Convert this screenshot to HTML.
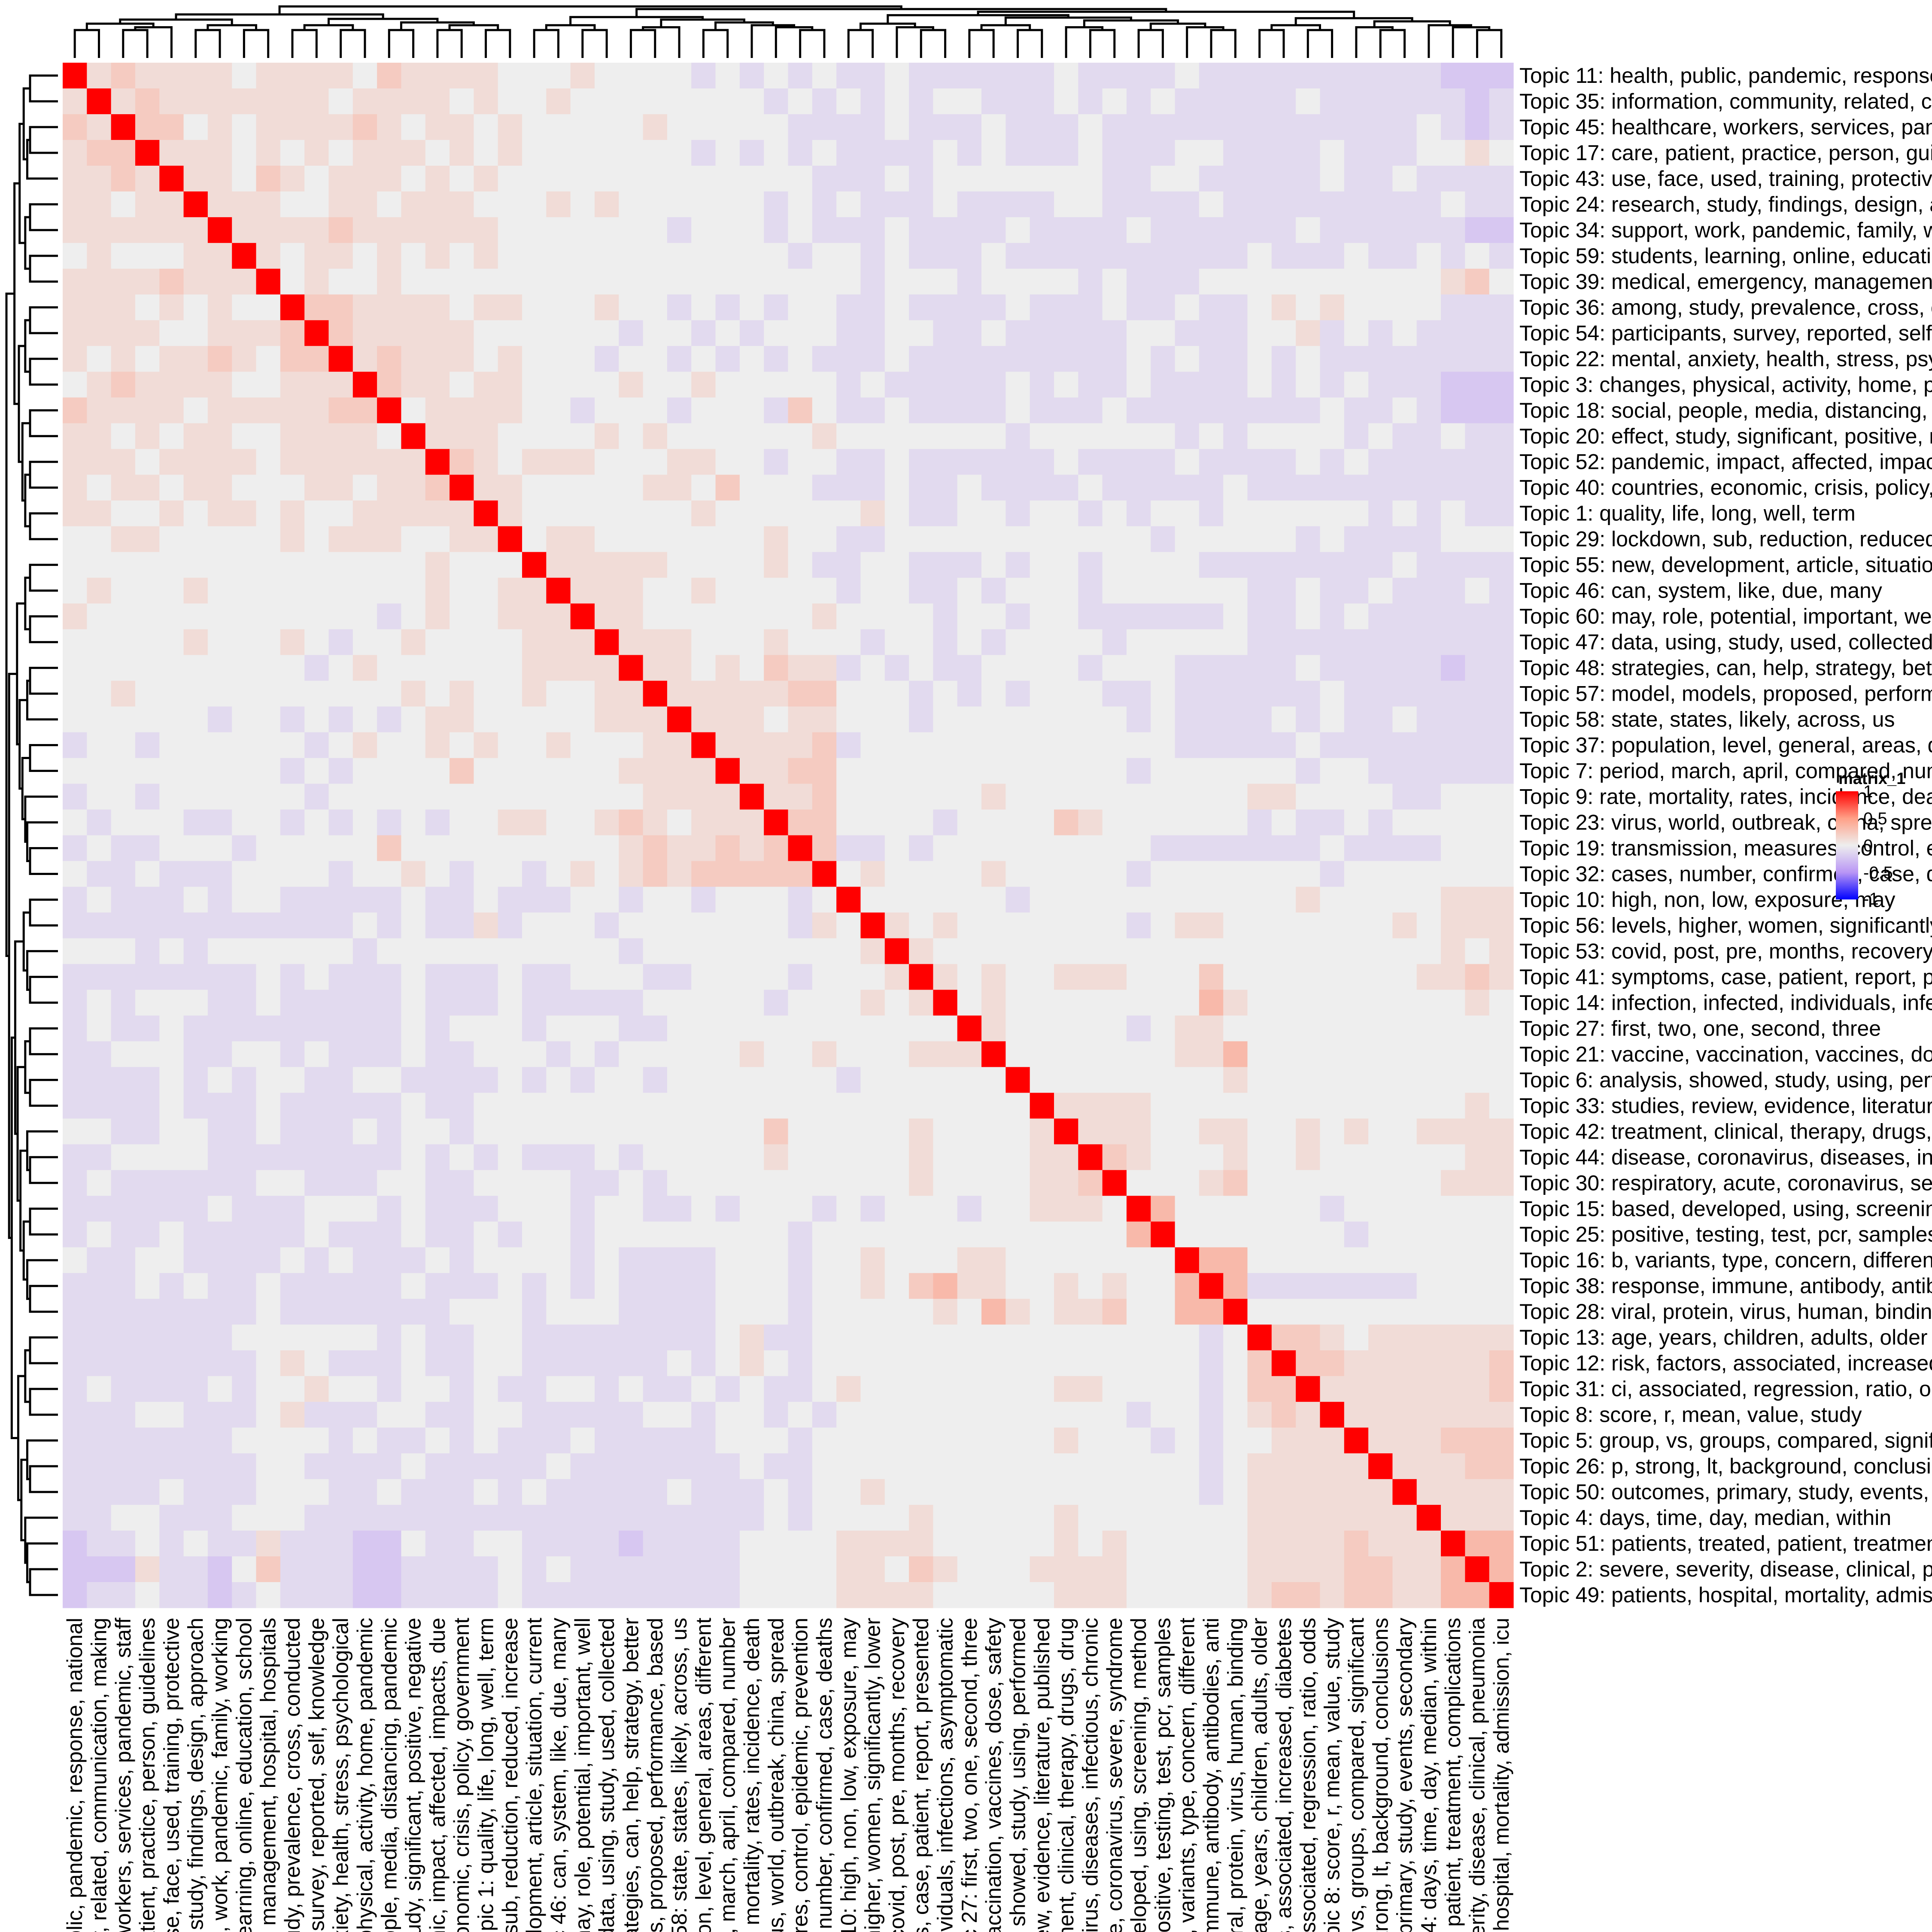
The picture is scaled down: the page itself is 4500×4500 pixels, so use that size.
<!DOCTYPE html>
<html><head><meta charset="utf-8"><style>
html,body{margin:0;padding:0;background:#fff;width:4500px;height:4500px;overflow:hidden;}
svg{display:block;font-family:"Liberation Sans",Arial,sans-serif;}
</style></head><body>
<svg id="chart" width="4500" height="4500" viewBox="0 0 4500 4500" xmlns="http://www.w3.org/2000/svg" overflow="hidden">
<g id="cells"></g>
<g id="rowlabels"></g>
<g id="collabels"></g>
<g id="dendro" stroke="#000" stroke-width="5" fill="none"></g>
<g id="legend">
<defs><linearGradient id="lg" x1="0" y1="0" x2="0" y2="1">
<stop offset="0" stop-color="#ff0000"/><stop offset="0.25" stop-color="#ffa087"/><stop offset="0.5" stop-color="#eeeeee"/><stop offset="0.75" stop-color="#b996f5"/><stop offset="1" stop-color="#0000ff"/></linearGradient></defs>
<text x="4282" y="1826" font-size="38" font-weight="bold">matrix_1</text>
<rect x="4276" y="1843" width="52" height="252" fill="url(#lg)"/>
<text x="4340" y="1857" font-size="40">1</text>
<text x="4340" y="1920" font-size="40">0.5</text>
<text x="4340" y="1983" font-size="40">0</text>
<text x="4340" y="2046" font-size="40">-0.5</text>
<text x="4340" y="2107" font-size="40">-1</text>
</g>
</svg>
<script>
const topics = ["Topic 11: health, public, pandemic, response, national","Topic 35: information, community, related, communication, making","Topic 45: healthcare, workers, services, pandemic, staff","Topic 17: care, patient, practice, person, guidelines","Topic 43: use, face, used, training, protective","Topic 24: research, study, findings, design, approach","Topic 34: support, work, pandemic, family, working","Topic 59: students, learning, online, education, school","Topic 39: medical, emergency, management, hospital, hospitals","Topic 36: among, study, prevalence, cross, conducted","Topic 54: participants, survey, reported, self, knowledge","Topic 22: mental, anxiety, health, stress, psychological","Topic 3: changes, physical, activity, home, pandemic","Topic 18: social, people, media, distancing, pandemic","Topic 20: effect, study, significant, positive, negative","Topic 52: pandemic, impact, affected, impacts, due","Topic 40: countries, economic, crisis, policy, government","Topic 1: quality, life, long, well, term","Topic 29: lockdown, sub, reduction, reduced, increase","Topic 55: new, development, article, situation, current","Topic 46: can, system, like, due, many","Topic 60: may, role, potential, important, well","Topic 47: data, using, study, used, collected","Topic 48: strategies, can, help, strategy, better","Topic 57: model, models, proposed, performance, based","Topic 58: state, states, likely, across, us","Topic 37: population, level, general, areas, different","Topic 7: period, march, april, compared, number","Topic 9: rate, mortality, rates, incidence, death","Topic 23: virus, world, outbreak, china, spread","Topic 19: transmission, measures, control, epidemic, prevention","Topic 32: cases, number, confirmed, case, deaths","Topic 10: high, non, low, exposure, may","Topic 56: levels, higher, women, significantly, lower","Topic 53: covid, post, pre, months, recovery","Topic 41: symptoms, case, patient, report, presented","Topic 14: infection, infected, individuals, infections, asymptomatic","Topic 27: first, two, one, second, three","Topic 21: vaccine, vaccination, vaccines, dose, safety","Topic 6: analysis, showed, study, using, performed","Topic 33: studies, review, evidence, literature, published","Topic 42: treatment, clinical, therapy, drugs, drug","Topic 44: disease, coronavirus, diseases, infectious, chronic","Topic 30: respiratory, acute, coronavirus, severe, syndrome","Topic 15: based, developed, using, screening, method","Topic 25: positive, testing, test, pcr, samples","Topic 16: b, variants, type, concern, different","Topic 38: response, immune, antibody, antibodies, anti","Topic 28: viral, protein, virus, human, binding","Topic 13: age, years, children, adults, older","Topic 12: risk, factors, associated, increased, diabetes","Topic 31: ci, associated, regression, ratio, odds","Topic 8: score, r, mean, value, study","Topic 5: group, vs, groups, compared, significant","Topic 26: p, strong, lt, background, conclusions","Topic 50: outcomes, primary, study, events, secondary","Topic 4: days, time, day, median, within","Topic 51: patients, treated, patient, treatment, complications","Topic 2: severe, severity, disease, clinical, pneumonia","Topic 49: patients, hospital, mortality, admission, icu"];
// upper-triangle correlation codes (row i, columns j>i); code -> value
const codeValues = {"1":-0.2,"2":-0.1,"3":0,"4":0.1,"5":0.2,"6":0.3,"7":0.4};
const upper = [
"45444434"+"4443544443"+"3343333232323"+"22322222232222322"+"22222222111",
"4544444"+"4434444343"+"3433333333232"+"32323322232323222"+"22322222212",
"553434"+"4445434434"+"3333343333322"+"22322232223222222"+"22222223212",
"44434"+"3434443434"+"3333333232323"+"22223232223222332"+"22232223343",
"4435"+"4344434343"+"3333333333332"+"22323333333223322"+"22232232222",
"444"+"3344344433"+"3434333333232"+"32223222233222232"+"22222222322",
"44"+"4454444443"+"3333332333232"+"22322223222232222"+"22322222211",
"4"+"3443434343"+"3333333333323"+"32322232222222222"+"32223223232",
"3433433333"+"3333333333333"+"32333233332322233"+"33333333453",
"554444344"+"3334332323233"+"22322223222322322"+"34343333222",
"54444433"+"3333233232333"+"22332232222233222"+"33423232222",
"4544434"+"3332332323232"+"22322222222232322"+"32322222222",
"544344"+"3333433433333"+"23222223232232222"+"32323222111",
"34444"+"3323332333253"+"22322223222322222"+"22232232111",
"4443"+"3334343333334"+"33333332333333232"+"33332322322",
"543"+"4443334433233"+"22322222232222322"+"22323222222",
"44"+"3333344353332"+"22322322223222223"+"22222222222",
"4"+"3333333433333"+"34322332332323323"+"33333232322",
"3443333333433"+"22333333333332333"+"33232222333",
"444443333432"+"23322232332333322"+"22222232222",
"44433433333"+"23322323332333333"+"22322322232",
"4433333334"+"33332332332222223"+"22323222222",
"444333433"+"32332323333233333"+"22222222222",
"44343544"+"23232233332333222"+"22322222122",
"4444455"+"33323232333223222"+"22232222222",
"444344"+"33323333333323222"+"23232232222",
"44445"+"23333333333333222"+"22322222222",
"4455"+"33333333333323333"+"33233222222",
"445"+"33333343333333333"+"44333322333",
"55"+"33332333354333333"+"23223233333",
"5"+"22323333333332222"+"22232222333",
"34333343333323333"+"33323333333",
"3333332333333333"+"33433333444",
"434333333323443"+"33333343444",
"43333333333333"+"33333333434",
"4343344433353"+"33333334454",
"343333333364"+"33333333343",
"43333323443"+"33333333333",
"3333333446"+"33333333333",
"333333334"+"33333333333",
"44443333"+"33333333343",
"4443344"+"33434334444",
"543334"+"33433333344",
"33345"+"33333333444",
"6333"+"33323333333",
"333"+"33332333333",
"66"+"33333333333",
"6"+"22222223333",
"33333333333",
"5543444444","554444445","44444445","4444444","444555","44455","4444","444","66","6",""];
// dendrogram structure (leaf indices in display order)
const treeA=[[[1,2],[[3,4],5]],[[6,7],[8,9]]];
const treeB=[[[10,11],[12,13]],[[14,15],[[16,17],[18,19]]]];
const treeC=[[[20,21],[22,23]],[[[24,25],26],[[27,28],[29,[30,[31,32]]]]]];
const treeD=[[[33,34],[35,[36,37]]],[[[38,39],[40,41]],[[42,[43,44]],[[45,46],[47,[48,49]]]]]];
const treeE=[[[50,51],[52,53]],[[54,[55,56]],[57,[58,[59,60]]]]];
const tree=[[treeA,treeB],[treeC,[treeD,treeE]]];

const N=topics.length, X0=146, Y0=146, W=3379, H=3599, cw=W/N, ch=H/N;
const NS="http://www.w3.org/2000/svg";
function xPos(j){return X0+j*cw;}
function yPos(i){return Y0+i*ch;}
function lerp(a,b,t){return a+(b-a)*t;}
function color(v){
  const stops=[[-1,[0,0,255]],[-0.5,[180,140,245]],[0,[238,238,238]],[0.5,[255,150,125]],[1,[255,0,0]]];
  v=Math.max(-1,Math.min(1,v));
  for(let k=0;k<stops.length-1;k++){
    const [a,ca]=stops[k],[b,cb]=stops[k+1];
    if(v>=a&&v<=b){const t=(v-a)/(b-a);return `rgb(${Math.round(lerp(ca[0],cb[0],t))},${Math.round(lerp(ca[1],cb[1],t))},${Math.round(lerp(ca[2],cb[2],t))})`;}
  }
  return "#eee";
}
function val(i,j){
  if(i===j) return 1;
  const a=Math.min(i,j), b=Math.max(i,j);
  return codeValues[upper[a][b-a-1]] ?? 0;
}
const cells=document.getElementById('cells');
for(let i=0;i<N;i++)for(let j=0;j<N;j++){
  const r=document.createElementNS(NS,'rect');
  
  
  r.setAttribute('x',xPos(j));r.setAttribute('y',yPos(i));
  r.setAttribute('width',cw+0.6);r.setAttribute('height',ch+0.6);
  r.setAttribute('fill',color(val(i,j)));
  cells.appendChild(r);
}
const rl=document.getElementById('rowlabels'), cl=document.getElementById('collabels');
topics.forEach((t,i)=>{
  const a=document.createElementNS(NS,'text');
  
  
  a.setAttribute('x',3539);a.setAttribute('y',yPos(i)+ch/2+17);
  a.setAttribute('font-size','50');a.textContent=t;rl.appendChild(a);
  const b=document.createElementNS(NS,'text');
  
  
  const cx=xPos(i)+cw/2+17, cy=3768;
  b.setAttribute('x',cx);b.setAttribute('y',cy);
  b.setAttribute('text-anchor','end');
  b.setAttribute('transform',`rotate(-90 ${cx} ${cy})`);
  b.setAttribute('font-size','50');b.textContent=t;cl.appendChild(b);
});
// dendrograms
const dg=document.getElementById('dendro');
function size(n){return Array.isArray(n)?size(n[0])+size(n[1]):1;}
function height(n){const s=size(n);return s<2?0:65+55*Math.log(s/2)/Math.log(30);}
function layout(n){
  if(!Array.isArray(n)) return [n-1+0.5,0];
  const L=layout(n[0]),R=layout(n[1]),h=height(n);
  const y=135-h, xl=X0+L[0]*cw, xr=X0+R[0]*cw;
  const p=document.createElementNS(NS,'path');
  
  
  p.setAttribute('d',`M${xl} ${135-L[1]}V${y}H${xr}V${135-R[1]}`);dg.appendChild(p);
  const yl=Y0+L[0]*ch, yr=Y0+R[0]*ch, x=135-h;
  const q=document.createElementNS(NS,'path');
  
  
  q.setAttribute('d',`M${135-L[1]} ${yl}H${x}V${yr}H${135-R[1]}`);dg.appendChild(q);
  return [(L[0]+R[0])/2,h];
}
layout(tree);
</script>
</body></html>
